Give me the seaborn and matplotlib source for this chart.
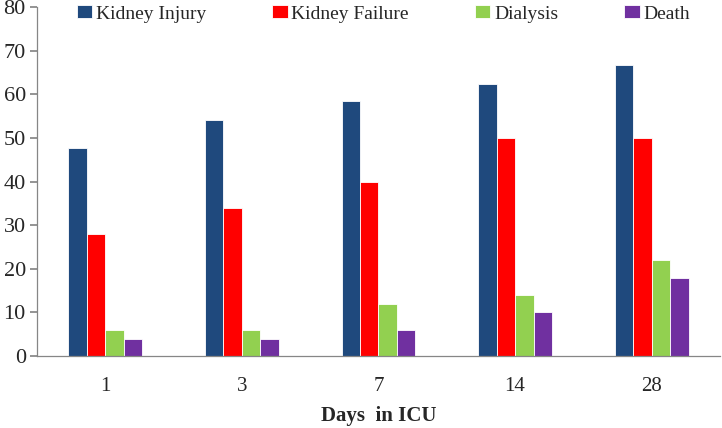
import pandas as pd
import matplotlib.pyplot as plt
import seaborn as sns
from matplotlib.ticker import FixedLocator


days = ["1", "3", "7", "14", "28"]
outcomes = ["Kidney Injury", "Kidney Failure", "Dialysis", "Death"]

kidney_injury = [47.8, 54.2, 58.4, 62.4, 66.7]
kidney_failure = [28, 34, 40, 50, 50]
dialysis = [6, 6, 12, 14, 22]
death = [4, 4, 6, 10, 18]

colors = ["#1F497D", "#FF0000", "#92D050", "#7030A0"]

sns.set_theme(style="white")
plt.rcParams["font.family"] = ["Liberation Serif", "DejaVu Serif"]


def build_frame():
    series = {
        "Kidney Injury": kidney_injury,
        "Kidney Failure": kidney_failure,
        "Dialysis": dialysis,
        "Death": death
    }

    rows = []

    for outcome in outcomes:
        for day, value in zip(days, series[outcome]):
            rows.append({"day": day, "outcome": outcome, "value": value})

    return pd.DataFrame(rows)


def main():
    df = build_frame()

    fig = plt.figure(figsize=(7.22, 4.28), dpi=100)
    ax = fig.add_axes([0.0512, 0.168, 0.946, 0.8156])

    sns.barplot(
        data=df,
        x="day",
        y="value",
        hue="outcome",
        order=days,
        hue_order=outcomes,
        palette=colors,
        saturation=1,
        width=0.54,
        edgecolor="white",
        linewidth=0.6,
        ax=ax
    )

    ax.set_xlim(-0.5, 4.5)
    ax.set_ylim(0, 80)
    ax.set_yticks(range(0, 81, 10))

    ax.xaxis.set_minor_locator(FixedLocator([0.5, 1.5, 2.5, 3.5, 4.5]))
    ax.tick_params(axis="x", which="major", length=0, labelsize=15, pad=15)
    ax.tick_params(axis="x", which="minor", length=6, color="#868686", direction="out")
    ax.tick_params(axis="y", length=5, color="#868686", direction="out",
                   labelsize=16, pad=3, left=True)

    for side in ["top", "right"]:
        ax.spines[side].set_visible(False)

    for side in ["left", "bottom"]:
        ax.spines[side].set_color("#868686")
        ax.spines[side].set_linewidth(0.9)

    ax.set_ylabel("")
    ax.set_xlabel("Days  in ICU", fontsize=15, fontweight="bold", labelpad=7)

    ax.legend(
        loc="upper left",
        bbox_to_anchor=(0.033, 1.055),
        ncol=4,
        frameon=False,
        fontsize=14,
        handlelength=0.78,
        handleheight=0.65,
        handletextpad=0.2,
        columnspacing=3.4
    )

    fig.savefig("out.png", dpi=100)
    plt.close(fig)


if __name__ == "__main__":
    main()
